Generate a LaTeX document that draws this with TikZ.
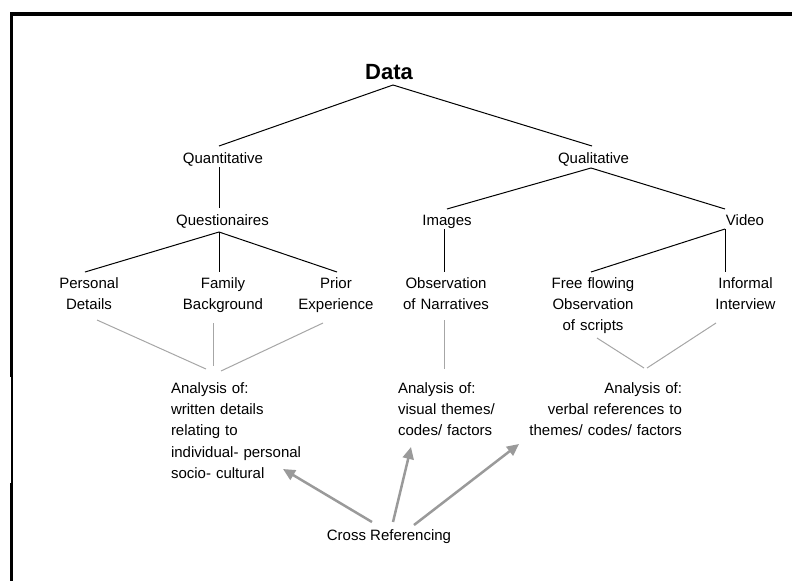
\documentclass[tikz,border=0pt]{standalone}
\usepackage{fontspec}
\setmainfont{Liberation Sans}
\usetikzlibrary{arrows.meta}
\definecolor{linegray}{HTML}{A6A6A6}
\definecolor{arrowgray}{HTML}{9A9A9A}
\begin{document}
\begin{tikzpicture}[x=1pt,y=-1pt,
  lbl/.style={inner sep=0pt,outer sep=0pt,font=\fontsize{15}{21}\selectfont},
  mlc/.style={lbl,text width=130pt,align=center},
  anl/.style={inner sep=0pt,outer sep=0pt,font=\fontsize{15}{21.25}\selectfont},
  blackline/.style={draw=black,line width=1pt},
  grayline/.style={draw=linegray,line width=1pt},
  grayarrow/.style={draw=arrowgray,line width=2.5pt,-{Triangle[length=12pt,width=11pt]}}]
\useasboundingbox (0,0) rectangle (792,581);
% frame
\fill[black] (10,12) rectangle (792,16);
\fill[black] (10,12) rectangle (13.3,377);
\fill[black] (11.3,377) rectangle (13.3,483);
\fill[black] (10,483) rectangle (13.3,581);
% nodes
\node[lbl,anchor=base,font=\fontsize{22}{26}\selectfont\bfseries] (data) at (389,79.5) {Data};
\node[lbl,anchor=base] (quant) at (223,163.3) {Quantitative};
\node[lbl,anchor=base] (qual) at (593.5,163.3) {Qualitative};
\node[lbl,anchor=base] (quest) at (222.5,225.5) {Questionaires};
\node[lbl,anchor=base] (images) at (447,225.5) {Images};
\node[lbl,anchor=base] (video) at (745,225.5) {Video};
\node[mlc,anchor=base] (personal) at (89,288.5) {Personal\\Details};
\node[mlc,anchor=base] (family) at (223,288.5) {Family\\Background};
\node[mlc,anchor=base] (prior) at (336,288.5) {Prior\\Experience};
\node[mlc,anchor=base] (obs) at (446,288.5) {Observation\\of Narratives};
\node[mlc,anchor=base,font=\fontsize{15}{20.75}\selectfont] (free) at (593,288.5) {Free flowing\\Observation\\of scripts};
\node[mlc,anchor=base] (informal) at (745.5,288.5) {Informal\\Interview};
\node[anl,text width=170pt,align=left,anchor=base west] (an1) at (171,393.3) {Analysis of:\\written details\\relating to\\individual- personal\\socio- cultural};
\node[anl,text width=130pt,align=left,anchor=base west] (an2) at (398,393.3) {Analysis of:\\visual themes/\\codes/ factors};
\node[anl,text width=200pt,align=right,anchor=base east] (an3) at (682,393.3) {Analysis of:\\verbal references to\\themes/ codes/ factors};
\node[lbl,anchor=base] (cross) at (389,540.7) {Cross Referencing};
% black tree lines
\draw[blackline] ([shift={(4,5.5)}]data.base) -- ([shift={(-4,-17.3)}]quant.base);
\draw[blackline] ([shift={(4,5.5)}]data.base) -- ([shift={(-1.5,-17.3)}]qual.base);
\draw[blackline] ([shift={(-4,3.7)}]quant.base) -- ([shift={(-3.5,-17.5)}]quest.base);
\draw[blackline] ([shift={(-3.5,6.5)}]quest.base) -- ([shift={(-4,-16.5)}]personal.base);
\draw[blackline] ([shift={(-3.5,6.5)}]quest.base) -- ([shift={(-4,-16.5)}]family.base);
\draw[blackline] ([shift={(-3.5,6.5)}]quest.base) -- ([shift={(1,-16.5)}]prior.base);
\draw[blackline] ([shift={(-2.5,4.7)}]qual.base) -- ([shift={(0,-16.5)}]images.base);
\draw[blackline] ([shift={(-2.5,4.7)}]qual.base) -- ([shift={(-20,-16.5)}]video.base);
\draw[blackline] ([shift={(-3,3.5)}]images.base) -- ([shift={(-2,-16.5)}]obs.base);
\draw[blackline] ([shift={(-20,3.5)}]video.base) -- ([shift={(-2,-16.5)}]free.base);
\draw[blackline] ([shift={(-20,3.5)}]video.base) -- ([shift={(-20.5,-16.5)}]informal.base);
% gray lines
\draw[grayline] ([shift={(8,31.5)}]personal.base) -- ([shift={(35,-24.3)}]an1.base west);
\draw[grayline] ([shift={(-10,34.5)}]family.base) -- ([shift={(42,-27.3)}]an1.base west);
\draw[grayline] ([shift={(-13,34.5)}]prior.base) -- ([shift={(50,-22.3)}]an1.base west);
\draw[grayline] ([shift={(-2,31.5)}]obs.base) -- ([shift={(46,-24.3)}]an2.base west);
\draw[grayline] ([shift={(4,49.5)}]free.base) -- ([shift={(-38,-25.3)}]an3.base east);
\draw[grayline] ([shift={(-29.5,34.5)}]informal.base) -- ([shift={(-35,-25.3)}]an3.base east);
% arrows
\draw[grayarrow] ([shift={(-17,-18.7)}]cross.base) -- ([shift={(112,75.7)}]an1.base west);
\draw[grayarrow] ([shift={(4,-18.7)}]cross.base) -- ([shift={(13,53.7)}]an2.base west);
\draw[grayarrow] ([shift={(25,-15.7)}]cross.base) -- ([shift={(-163,50.7)}]an3.base east);
\end{tikzpicture}
\end{document}
